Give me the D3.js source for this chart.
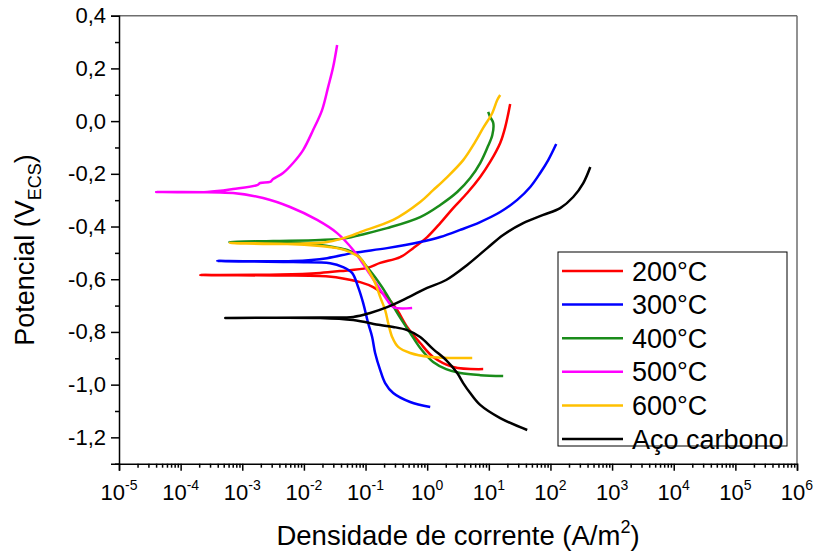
<!DOCTYPE html>
<html>
<head>
<meta charset="utf-8">
<script src="https://cdn.jsdelivr.net/npm/d3@7"></script>
<style>
  body { margin: 0; background: #fff; }
  svg text { font-family: "Liberation Sans", Arial, sans-serif; fill: #000; }
</style>
</head>
<body>
<div id="chart"></div>
<script>
// polarization curves: [current density (A/m2), potential (V_ECS)], in scan order
var s200 = [[8.1,-0.941],[2.64,-0.933],[1.25,-0.895],[0.77,-0.842],[0.473,-0.781],[0.326,-0.717],[0.224,-0.668],
  [0.133,-0.630],[0.0817,-0.611],[0.0387,-0.595],[0.0183,-0.588],[0.0041,-0.586],[2.07e-4,-0.584],[0.0041,-0.582],
  [0.0183,-0.576],[0.0387,-0.569],[0.106,-0.557],[0.173,-0.538],[0.365,-0.516],[0.593,-0.482],[1.0,-0.440],
  [1.63,-0.387],[2.64,-0.330],[4.46,-0.273],[7.24,-0.212],[10.5,-0.155],[15.3,-0.083],[18.5,-0.022],[22.2,0.065]];
var s300 = [[1.12,-1.085],[0.53,-1.066],[0.281,-1.032],[0.208,-0.994],[0.173,-0.945],[0.143,-0.880],[0.128,-0.819],
  [0.110,-0.766],[0.0914,-0.690],[0.0759,-0.630],[0.0605,-0.576],[0.0432,-0.554],[0.0266,-0.539],[0.00668,-0.535],
  [3.9e-4,-0.531],[0.00668,-0.531],[0.0238,-0.520],[0.063,-0.500],[0.224,-0.482],[0.77,-0.459],[1.63,-0.440],
  [3.43,-0.413],[7.24,-0.383],[15.3,-0.345],[28.9,-0.299],[47.0,-0.250],[68.2,-0.197],[92.0,-0.148],[124,-0.087]];
var s400 = [[17.1,-0.967],[7.24,-0.964],[3.43,-0.956],[2.03,-0.941],[1.25,-0.914],[0.77,-0.861],[0.53,-0.804],
  [0.326,-0.728],[0.224,-0.660],[0.154,-0.603],[0.106,-0.554],[0.0731,-0.508],[0.0502,-0.489],[0.0298,-0.478],
  [0.0183,-0.470],[0.00867,-0.463],[6.1e-4,-0.459],[0.00316,-0.455],[0.0183,-0.451],[0.0502,-0.444],[0.0817,-0.432],
  [0.224,-0.406],[0.77,-0.364],[1.63,-0.318],[3.07,-0.269],[4.99,-0.216],[7.24,-0.159],[9.42,-0.102],[11.4,-0.053],
  [11.8,-0.007],[10.5,0.016],[9.77,0.035]];
var s500 = [[0.57,-0.709],[0.281,-0.706],[0.224,-0.679],[0.154,-0.622],[0.106,-0.565],[0.063,-0.489],
  [0.0346,-0.425],[0.0164,-0.375],[0.00597,-0.326],[0.00218,-0.292],[7.1e-4,-0.273],[4.0e-5,-0.269],[2.69e-4,-0.269],
  [7.1e-4,-0.258],[0.00174,-0.243],[0.00195,-0.235],[0.00282,-0.231],[0.00316,-0.220],[0.00459,-0.197],[0.00668,-0.159],
  [0.0097,-0.110],[0.0141,-0.034],[0.0197,0.042],[0.0247,0.129],[0.0298,0.205],[0.0346,0.289]];
var s600 = [[5.38,-0.899],[2.64,-0.899],[1.12,-0.895],[0.53,-0.880],[0.338,-0.857],[0.270,-0.819],[0.233,-0.766],
  [0.208,-0.717],[0.173,-0.668],[0.143,-0.614],[0.110,-0.565],[0.0817,-0.520],[0.0562,-0.497],[0.0346,-0.482],
  [0.0183,-0.474],[0.00533,-0.466],[6.3e-4,-0.463],[0.00316,-0.466],[0.0238,-0.459],[0.063,-0.432],[0.0817,-0.421],
  [0.281,-0.375],[0.77,-0.307],[1.25,-0.262],[2.03,-0.216],[3.84,-0.148],[6.01,-0.079],[8.1,-0.026],[11.4,0.031],
  [13.7,0.080],[15.3,0.099]];
var sAco = [[42.0,-1.172],[15.3,-1.127],[7.24,-1.077],[4.99,-1.032],[3.84,-0.994],[3.07,-0.956],[2.03,-0.907],
  [1.25,-0.865],[0.77,-0.819],[0.473,-0.793],[0.281,-0.781],[0.173,-0.774],[0.063,-0.755],[0.0183,-0.747],
  [5.3e-4,-0.747],[0.0183,-0.745],[0.063,-0.743],[0.119,-0.728],[0.224,-0.706],[0.473,-0.671],[1.0,-0.633],
  [2.03,-0.603],[4.46,-0.546],[9.42,-0.482],[17.1,-0.432],[36.1,-0.387],[76.4,-0.356],[144,-0.330],[234,-0.288],
  [341,-0.235],[443,-0.174]];

var seriesNames = ["200°C", "300°C", "400°C", "500°C", "600°C", "Aço carbono"];
var seriesData = [s200, s300, s400, s500, s600, sAco];
var seriesColors = ["#ff0000", "#0000ff", "#1a8c1a", "#ff00ff", "#ffc000", "#000000"];

var xDecades = d3.range(-5, 7);            // 10^-5 .. 10^6
var yTicks = d3.range(-12, 5, 2).map(function(v){ return v / 10; });
var yMinor = d3.range(-13, 4, 2).map(function(v){ return v / 10; });

var width = 814, height = 553;
var plotL = 119, plotR = 797, plotT = 15.7, plotB = 463.7;

var svg = d3.select("#chart").append("svg")
  .attr("width", width)
  .attr("height", height);

var x = d3.scaleLog().domain([1e-5, 1e6]).range([plotL, plotR]);
var y = d3.scaleLinear().domain([-1.3, 0.4]).range([plotB, plotT]);

var pt = d3.formatLocale({decimal: ",", thousands: ".", grouping: [3], currency: ["", ""], minus: "-"});
var fmtY = pt.format(".1f");

// frame (top & right in gray)
svg.append("line").attr("x1", plotL).attr("x2", plotR).attr("y1", plotT).attr("y2", plotT)
  .style("stroke", "#6e6e6e").style("stroke-width", 1.5);
svg.append("line").attr("x1", plotR).attr("x2", plotR).attr("y1", plotT).attr("y2", plotB)
  .style("stroke", "#6e6e6e").style("stroke-width", 1.5);

// minor x ticks
var xMinor = [];
xDecades.slice(0, -1).forEach(function(e){
  for (var k = 2; k < 10; k++) xMinor.push(k * Math.pow(10, e));
});
svg.append("g")
  .attr("transform", "translate(0," + plotB + ")")
  .call(d3.axisBottom(x).tickValues(xMinor).tickSize(4).tickFormat(""))
  .call(function(g){ g.select(".domain").remove(); g.selectAll("line").style("stroke-width", 1.5); });

// major x axis
var xAxis = svg.append("g")
  .attr("transform", "translate(0," + plotB + ")")
  .call(d3.axisBottom(x).tickValues(xDecades.map(function(e){ return Math.pow(10, e); })).tickSize(7).tickFormat(""));
xAxis.select(".domain").style("stroke-width", 1.5);
xAxis.selectAll("line").style("stroke-width", 1.5);

xDecades.forEach(function(e){
  var t = svg.append("text")
    .attr("x", x(Math.pow(10, e)))
    .attr("y", 500)
    .attr("text-anchor", "middle")
    .style("font-size", "22px");
  t.append("tspan").text("10");
  t.append("tspan").attr("dy", -10).style("font-size", "14px").text(e);
});

// y axis
svg.append("g")
  .attr("transform", "translate(" + plotL + ",0)")
  .call(d3.axisLeft(y).tickValues(yMinor).tickSize(4).tickFormat(""))
  .call(function(g){ g.select(".domain").remove(); g.selectAll("line").style("stroke-width", 1.5); });

var yAxis = svg.append("g")
  .attr("transform", "translate(" + plotL + ",0)")
  .call(d3.axisLeft(y).tickValues(yTicks).tickSize(8).tickPadding(5).tickFormat(fmtY));
yAxis.select(".domain").style("stroke-width", 1.5);
yAxis.selectAll("line").style("stroke-width", 1.5);
yAxis.selectAll("text").style("font-size", "22px").style("font-family", "'Liberation Sans', Arial, sans-serif");

// axis titles
var xt = svg.append("text")
  .attr("x", (plotL + plotR) / 2)
  .attr("y", 545)
  .attr("text-anchor", "middle")
  .style("font-size", "27.5px");
xt.append("tspan").text("Densidade de corrente (A/m");
xt.append("tspan").attr("dy", -12).style("font-size", "18px").text("2");
xt.append("tspan").attr("dy", 12).text(")");

var yt = svg.append("text")
  .attr("transform", "translate(34,250) rotate(-90)")
  .attr("text-anchor", "middle")
  .style("font-size", "27px");
yt.append("tspan").text("Potencial (V");
yt.append("tspan").attr("dy", 7).style("font-size", "18px").text("ECS");
yt.append("tspan").attr("dy", -7).text(")");

// curves
var line = d3.line()
  .x(function(d){ return x(d[0]); })
  .y(function(d){ return y(d[1]); })
  .curve(d3.curveCatmullRom.alpha(0.5));

seriesData.forEach(function(data, i){
  svg.append("path")
    .datum(data)
    .attr("d", line)
    .style("fill", "none")
    .style("stroke", seriesColors[i])
    .style("stroke-width", 2.5)
    .style("stroke-linejoin", "round");
});

// legend
var legend = svg.append("g").attr("transform", "translate(558,252)");
legend.append("rect")
  .attr("width", 229).attr("height", 194)
  .style("fill", "#fff").style("stroke", "#000").style("stroke-width", 1);
seriesNames.forEach(function(name, i){
  var cy = 19 + i * 33.6;
  legend.append("line")
    .attr("x1", 4).attr("x2", 65).attr("y1", cy).attr("y2", cy)
    .style("stroke", seriesColors[i]).style("stroke-width", 2.5);
  legend.append("text")
    .attr("x", 74).attr("y", cy + 9.5)
    .style("font-size", "27px")
    .text(name);
});
</script>
</body>
</html>
